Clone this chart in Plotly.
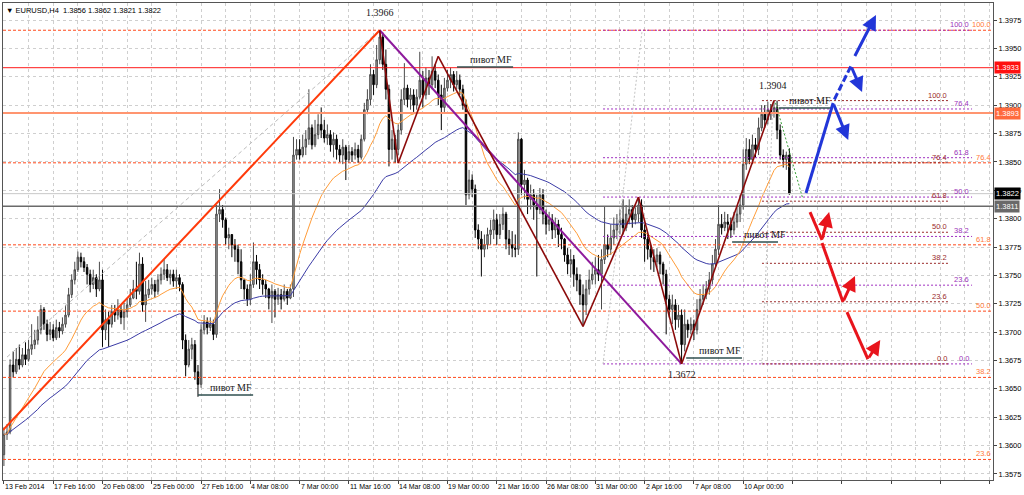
import plotly.graph_objects as go
import pandas as pd

# ---------------- data (prices in 1/10000) ----------------
first_open_pips = 13592
close_pips = [
13610,13612,13671,13665,13676,13671,13680,13676,13685,13689,
13693,13702,13720,13707,13698,13702,13695,13704,13701,13707,
13715,13733,13746,13755,13766,13762,13757,13751,13742,13748,
13738,13746,13702,13711,13707,13718,13715,13720,13713,13718,
13724,13730,13738,13736,13760,13724,13733,13738,13742,13736,
13746,13751,13755,13748,13751,13745,13748,13742,13693,13671,
13685,13689,13665,13654,13702,13709,13704,13707,13698,13804,
13808,13799,13783,13786,13777,13773,13762,13746,13738,13729,
13742,13762,13755,13746,13742,13738,13730,13736,13729,13733,
13729,13736,13730,13738,13856,13861,13856,13863,13870,13880,
13865,13874,13883,13878,13871,13874,13865,13870,13861,13856,
13863,13852,13859,13856,13861,13854,13870,13896,13905,13927,
13918,13940,13960,13936,13914,13861,13870,13861,13878,13905,
13915,13905,13909,13900,13907,13922,13909,13924,13918,13930,
13922,13909,13898,13915,13922,13927,13918,13922,13914,13900,
13821,13834,13826,13790,13782,13773,13777,13786,13790,13799,
13786,13795,13804,13782,13777,13774,13773,13870,13830,13834,
13817,13821,13812,13808,13821,13804,13795,13799,13790,13795,
13786,13782,13768,13760,13764,13751,13746,13733,13724,13738,
13746,13751,13755,13751,13764,13777,13773,13783,13790,13795,
13799,13792,13804,13808,13799,13804,13812,13790,13782,13773,
13766,13762,13768,13760,13751,13729,13720,13724,13711,13715,
13689,13707,13702,13707,13702,13720,13729,13733,13738,13746,
13760,13773,13795,13792,13797,13795,13790,13797,13804,13812,
13848,13861,13852,13865,13861,13880,13892,13887,13896,13894,
13898,13878,13856,13852,13856,13822]
high_pips = [
13616,13619,13676,13683,13686,13689,13686,13691,13693,13707,
13702,13714,13724,13722,13711,13709,13707,13711,13709,13713,
13724,13739,13751,13762,13771,13770,13766,13760,13755,13755,
13751,13762,13755,13720,13718,13724,13724,13729,13724,13726,
13730,13738,13746,13762,13770,13766,13745,13746,13748,13746,
13751,13757,13764,13760,13755,13755,13755,13751,13744,13698,
13693,13695,13693,13671,13707,13715,13713,13713,13711,13812,
13826,13812,13801,13792,13786,13782,13777,13773,13746,13742,
13751,13779,13768,13760,13751,13746,13739,13742,13738,13739,
13738,13742,13738,13742,13872,13870,13870,13874,13878,13914,
13883,13887,13892,13898,13887,13883,13878,13876,13874,13865,
13870,13865,13865,13863,13867,13865,13874,13902,13914,13936,
13931,13953,13966,13964,13949,13918,13878,13874,13883,13914,
13937,13918,13915,13914,13914,13947,13930,13933,13931,13943,
13936,13927,13918,13924,13931,13933,13930,13930,13927,13918,
13905,13843,13839,13830,13795,13789,13786,13792,13799,13808,
13804,13804,13810,13806,13790,13789,13786,13876,13871,13843,
13836,13830,13826,13821,13827,13826,13808,13806,13804,13801,
13799,13792,13783,13774,13773,13768,13757,13751,13742,13746,
13755,13762,13766,13768,13773,13811,13786,13795,13801,13804,
13808,13817,13812,13817,13812,13810,13819,13817,13795,13786,
13777,13773,13774,13771,13762,13755,13733,13733,13729,13724,
13720,13720,13711,13713,13711,13729,13738,13742,13745,13753,
13768,13782,13812,13804,13806,13804,13801,13806,13810,13821,
13861,13871,13870,13874,13871,13889,13900,13900,13903,13901,
13904,13904,13883,13861,13859,13862]
low_pips = [
13582,13605,13610,13660,13663,13667,13669,13671,13674,13680,
13685,13689,13698,13702,13692,13693,13692,13693,13695,13698,
13704,13713,13730,13742,13753,13757,13753,13742,13735,13738,
13731,13736,13687,13693,13687,13704,13709,13711,13707,13702,
13713,13722,13729,13729,13733,13718,13709,13730,13733,13730,
13733,13742,13746,13745,13742,13740,13738,13736,13685,13661,
13669,13676,13658,13643,13651,13698,13698,13701,13693,13695,
13797,13792,13777,13773,13766,13762,13751,13738,13729,13723,
13724,13739,13742,13738,13733,13730,13720,13708,13713,13724,
13720,13727,13724,13729,13731,13852,13852,13854,13856,13865,
13861,13863,13870,13871,13867,13865,13859,13854,13852,13850,
13848,13834,13849,13850,13852,13849,13852,13868,13892,13900,
13909,13915,13936,13931,13905,13846,13852,13849,13856,13874,
13900,13898,13896,13894,13896,13905,13898,13905,13909,13914,
13915,13900,13878,13894,13912,13915,13912,13914,13909,13896,
13812,13817,13819,13783,13773,13749,13766,13773,13777,13782,
13777,13782,13790,13773,13768,13766,13766,13768,13821,13817,
13804,13808,13799,13749,13804,13795,13786,13789,13782,13783,
13775,13773,13762,13751,13748,13740,13736,13724,13705,13715,
13733,13742,13742,13745,13720,13760,13766,13768,13777,13782,
13786,13786,13789,13795,13792,13795,13797,13783,13762,13764,
13755,13753,13757,13751,13742,13698,13713,13707,13702,13704,
13672,13683,13695,13698,13693,13698,13718,13724,13729,13733,
13742,13757,13768,13786,13789,13782,13783,13786,13792,13797,
13808,13843,13848,13848,13854,13856,13877,13880,13883,13887,
13889,13870,13852,13845,13843,13821]

tick_labels = ["13 Feb 2014", "17 Feb 16:00", "20 Feb 08:00", "25 Feb 00:00",
               "27 Feb 16:00", "4 Mar 08:00", "7 Mar 00:00", "11 Mar 16:00",
               "14 Mar 08:00", "19 Mar 00:00", "21 Mar 16:00", "26 Mar 08:00",
               "31 Mar 00:00", "2 Apr 16:00", "7 Apr 08:00", "10 Apr 00:00"]
bars_per_label = 16

price_ticks = [1.3575, 1.3600, 1.3625, 1.3650, 1.3675, 1.3700, 1.3725, 1.3750,
               1.3775, 1.3800, 1.3825, 1.3850, 1.3875, 1.3900, 1.3925, 1.3950, 1.3975]

header_text = "\u25bc EURUSD,H4  1.3856 1.3862 1.3821 1.3822"

# horizontal levels
level_red = 1.3933
level_salmon = 1.3893
level_bid = 1.3822
level_gray = 1.3811

# fibonacci tools (anchor low, anchor high, levels)
fib_orange = dict(lo=1.3471, hi=1.3966, levels=[100.0, 76.4, 61.8, 50.0, 38.2, 23.6])
fib_purple = dict(lo=1.3672, hi=1.3966, levels=[100.0, 76.4, 61.8, 50.0, 38.2, 23.6, 0.0],
                  x0=194.5, x1=314.3)
fib_maroon = dict(lo=1.3672, hi=1.3904, levels=[100.0, 76.4, 61.8, 50.0, 38.2, 23.6, 0.0],
                  x0=246.1, x1=306.5)

# zigzag swing points (bar, price)
zig_bars = [122, 128, 141, 188, 206, 220, 250]
zig_prices = [1.3966, 1.3849, 1.3943, 1.3705, 1.3819, 1.3672, 1.3904]

# ---------------- derived ----------------
closes = [v / 10000 for v in close_pips]
highs = [v / 10000 for v in high_pips]
lows = [v / 10000 for v in low_pips]
opens = [first_open_pips / 10000] + closes[:-1]
bars = list(range(len(closes)))

ema_fast = pd.Series(closes).ewm(span=21, adjust=False).mean()
ema_slow = pd.Series(closes).ewm(span=55, adjust=False).mean()

X_MIN, X_MAX = -0.3, 321.1
Y_MIN, Y_MAX = 1.35697, 1.39900

fig = go.Figure()
fig.add_trace(go.Candlestick(
    x=bars, open=opens, high=highs, low=lows, close=closes,
    increasing=dict(line=dict(color="#4a4a4a", width=1), fillcolor="#a8a8a8"),
    decreasing=dict(line=dict(color="#000000", width=1), fillcolor="#000000"),
    whiskerwidth=0, hoverinfo="skip", showlegend=False))
fig.add_trace(go.Scatter(x=bars, y=ema_slow, mode="lines",
                         line=dict(color="#3b3ba6", width=1), showlegend=False, hoverinfo="skip"))
fig.add_trace(go.Scatter(x=bars, y=ema_fast, mode="lines",
                         line=dict(color="#ff9d3a", width=1), showlegend=False, hoverinfo="skip"))

shapes = []
ann = []

def hline(y, color, width=1, dash="solid", x0=None, x1=None):
    if x0 is None:
        shapes.append(dict(type="line", xref="paper", x0=0, x1=1, yref="y", y0=y, y1=y,
                           line=dict(color=color, width=width, dash=dash)))
    else:
        shapes.append(dict(type="line", xref="x", x0=x0, x1=x1, yref="y", y0=y, y1=y,
                           line=dict(color=color, width=width, dash=dash)))

def seg(x0, y0, x1, y1, color, width=1, dash="solid"):
    shapes.append(dict(type="line", xref="x", yref="y", x0=x0, y0=y0, x1=x1, y1=y1,
                       line=dict(color=color, width=width, dash=dash)))

# fib orange (full width)
for lv in fib_orange["levels"]:
    p = fib_orange["lo"] + (fib_orange["hi"] - fib_orange["lo"]) * lv / 100
    hline(p, "#ff4a1c", 1, "3px,2px")
    ann.append(dict(xref="paper", x=1, xanchor="right", xshift=-1, yref="y", y=p,
                    yanchor="bottom", text=f"{lv:.1f}", showarrow=False, borderpad=0,
                    font=dict(family="Liberation Sans", size=7.5, color="#ff7a3a")))
# fib purple
for lv in fib_purple["levels"]:
    p = fib_purple["lo"] + (fib_purple["hi"] - fib_purple["lo"]) * lv / 100
    hline(p, "#a030c0", 1, "2px,2px", fib_purple["x0"], fib_purple["x1"])
    ann.append(dict(xref="x", x=fib_purple["x1"], xanchor="right", xshift=-2, yref="y", y=p,
                    yanchor="bottom", text=f"{lv:.1f}", showarrow=False, borderpad=0,
                    font=dict(family="Liberation Sans", size=7.5, color="#9a32b8")))
# fib maroon
for lv in fib_maroon["levels"]:
    p = fib_maroon["lo"] + (fib_maroon["hi"] - fib_maroon["lo"]) * lv / 100
    hline(p, "#9a2a2a", 1, "2px,2px", fib_maroon["x0"], fib_maroon["x1"])
    ann.append(dict(xref="x", x=fib_maroon["x1"], xanchor="right", yref="y", y=p,
                    yanchor="bottom", text=f"{lv:.1f}", showarrow=False, borderpad=0,
                    font=dict(family="Liberation Sans", size=7.5, color="#9a2a2a")))

# horizontal levels
hline(level_bid, "#c8c8c8", 1)
hline(level_gray, "#6a6a6a", 1.5)
hline(level_red, "#ff1a1a", 1)
hline(level_salmon, "#ff9570", 2)

# connector / trend lines
seg(1.0, 1.3678, 121.1, 1.3964, "#bdbdbd", 1, "4px,3px")
seg(194.5, 1.3672, 207.2, 1.3966, "#c4c4c4", 1, "2px,2px")
seg(246.1, 1.3672, 249.7, 1.3904, "#c4c4c4", 1, "2px,2px")
seg(X_MIN, 1.36138, 122, 1.3966, "#ff3a0a", 2)
seg(zig_bars[0], zig_prices[0], zig_bars[5], zig_prices[5], "#8e1a9c", 2)
for i in range(len(zig_bars) - 1):
    seg(zig_bars[i], zig_prices[i], zig_bars[i + 1], zig_prices[i + 1], "#8b0a0a", 1.6)
seg(250.5, 1.3902, 259.3, 1.3818, "#3aa03a", 1, "2px,2px")

# pivot MF marks (x0, x1, price, text anchor bar)
pivots = [(63.0, 80.9, 1.36446, 80.9), (147.1, 165.3, 1.39336, 165.3),
          (221.5, 239.6, 1.36772, 239.6), (236.4, 251.3, 1.37794, 254.2),
          (251.6, 268.9, 1.38975, 268.9)]
for x0, x1, p, xt in pivots:
    seg(x0, p, x1, p, "#2f4f4f", 1.5)
    ann.append(dict(xref="x", x=xt, xanchor="right", yref="y", y=p, yanchor="bottom",
                    yshift=1, text="пивот MF", showarrow=False, borderpad=0,
                    font=dict(family="Liberation Serif", size=10, color="#1a1a1a")))

# swing price labels
for xb, p, t in [(122.1, 1.39820, "1.3966"), (220.2, 1.36631, "1.3672"), (249.7, 1.39169, "1.3904")]:
    ann.append(dict(xref="x", x=xb, yref="y", y=p, text=t, showarrow=False,
                    font=dict(family="Liberation Serif", size=10, color="#1a1a1a")))

# projected path arrows
blue = "#2236d8"
red = "#e8141c"
seg(260.4, 1.38226, 269.2, 1.39019, blue, 3)
seg(269.6, 1.39050, 275.0, 1.39345, blue, 3, "7px,3px")
ann.append(dict(x=274.1, y=1.38693, ax=269.2, ay=1.39019, xref="x", yref="y", axref="x", ayref="y",
                showarrow=True, arrowhead=2, arrowsize=1, arrowwidth=3, arrowcolor=blue, text=""))
ann.append(dict(x=278.6, y=1.39116, ax=275.0, ay=1.39345, xref="x", yref="y", axref="x", ayref="y",
                showarrow=True, arrowhead=2, arrowsize=1, arrowwidth=3, arrowcolor=blue, text=""))
ann.append(dict(x=283.1, y=1.39794, ax=276.0, ay=1.39420, xref="x", yref="y", axref="x", ayref="y",
                showarrow=True, arrowhead=2, arrowsize=1, arrowwidth=3, arrowcolor=blue, text=""))

seg(261.7, 1.38058, 265.6, 1.37812, red, 3)
ann.append(dict(x=267.9, y=1.38058, ax=265.6, ay=1.37812, xref="x", yref="y", axref="x", ayref="y",
                showarrow=True, arrowhead=2, arrowsize=1, arrowwidth=3, arrowcolor=red, text=""))
seg(265.6, 1.37785, 272.4, 1.37266, red, 3)
ann.append(dict(x=276.3, y=1.37495, ax=272.4, ay=1.37266, xref="x", yref="y", axref="x", ayref="y",
                showarrow=True, arrowhead=2, arrowsize=1, arrowwidth=3, arrowcolor=red, text=""))
seg(273.7, 1.37177, 280.5, 1.36763, red, 3)
ann.append(dict(x=284.5, y=1.36931, ax=280.5, ay=1.36763, xref="x", yref="y", axref="x", ayref="y",
                showarrow=True, arrowhead=2, arrowsize=1, arrowwidth=3, arrowcolor=red, text=""))

# right-axis price boxes
for p, bg in [(level_red, "#ff1010"), (level_salmon, "#ff6a3d"), (level_bid, "#000000"), (level_gray, "#6a6a6a")]:
    ann.append(dict(xref="paper", x=1, xanchor="left", xshift=1, yref="y", y=p, yanchor="middle",
                    text=f"{p:.4f}", showarrow=False, bgcolor=bg, borderpad=1,
                    font=dict(family="Liberation Sans", size=7.5, color="#ffffff")))

# x-axis labels (MT4 style, left aligned at tick)
for i, lab in enumerate(tick_labels):
    ann.append(dict(xref="x", x=i * bars_per_label, yref="paper", y=0, yanchor="top",
                    xanchor="left", yshift=-2, text=lab, showarrow=False, borderpad=0,
                    font=dict(family="Liberation Sans", size=7, color="#000000")))

# header
ann.append(dict(xref="paper", x=0, xanchor="left", xshift=2, yref="paper", y=1, yanchor="top",
                yshift=-2, text=header_text, showarrow=False, borderpad=0,
                font=dict(family="Liberation Sans", size=7.5, color="#000000")))

grid = dict(showgrid=True, gridcolor="#cfcfcf", griddash="3px,3px", gridwidth=1)
fig.update_layout(
    width=1024, height=495,
    margin=dict(l=3, r=31, t=3, b=15),
    paper_bgcolor="#ffffff", plot_bgcolor="#ffffff",
    shapes=shapes, annotations=ann, showlegend=False,
    xaxis=dict(range=[X_MIN, X_MAX], tick0=0, dtick=bars_per_label, ticks="outside", ticklen=3,
               tickcolor="#444444", showticklabels=False, zeroline=False,
               showline=True, linecolor="#555555", linewidth=1, mirror=True,
               rangeslider=dict(visible=False),
               minor=dict(tick0=0, dtick=8, showgrid=True, gridcolor="#cfcfcf", griddash="3px,3px"),
               **grid),
    yaxis=dict(range=[Y_MIN, Y_MAX], side="right", tickvals=price_ticks,
               ticktext=[f"{v:.4f}" for v in price_ticks], ticks="outside", ticklen=3,
               tickcolor="#444444", zeroline=False,
               showline=True, linecolor="#555555", linewidth=1, mirror=True,
               tickfont=dict(family="Liberation Sans", size=7.5, color="#000000"),
               **grid),
)

fig.write_html("out.html", config={"displayModeBar": False},
               post_script="document.body.style.margin='0';document.body.style.padding='0';"
                           "document.body.style.overflow='hidden';")
